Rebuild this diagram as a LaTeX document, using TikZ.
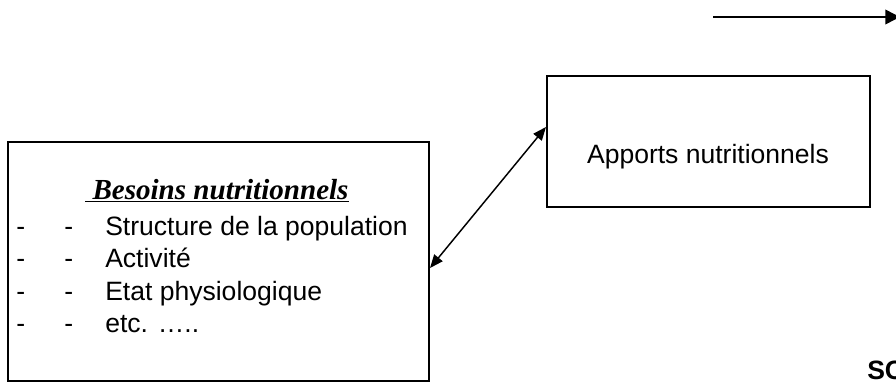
\documentclass[tikz,border=0pt]{standalone}
\usepackage{fontspec}
\setmainfont{Liberation Sans}
\newfontfamily\titlefont{Liberation Serif}
\usetikzlibrary{arrows.meta,positioning}
\tikzset{info box/.style={rectangle, draw=black, line width=1.5pt, inner sep=0pt}}
\tikzset{list text/.style={anchor=base west, inner sep=0pt, font=\fontsize{19.9}{24}\selectfont}}
\tikzset{title text/.style={anchor=base west, inner sep=0pt,
    font=\titlefont\fontsize{21.8}{26}\selectfont\bfseries\itshape}}
\tikzset{link edge/.style={draw=black, line width=1.1pt}}

\begin{document}
\begin{tikzpicture}
      [x=0.75pt, y=-0.75pt, >={Triangle[length=10pt,width=8pt]}]
      \useasboundingbox (0,0) rectangle (896,383);

      \node [info box, minimum width=315.75pt, minimum height=179.25pt] (besoins) at (218.5,261.5) {};
      \node [info box, minimum width=242.25pt, minimum height=98.25pt]  (apports) at (708.5,141.5) {};

      \node [list text, anchor=base] (apports text) at (708,163) {Apports nutritionnels};

      \node [title text] (titre)  at (85,199) {\underline{~Besoins nutritionnels}};

      \node [list text] (dash1a)  at ( 16,235) {-};
      \node [list text] (dash1b)  at ( 64,235) {-};
      \node [list text] (ligne1)  at (105,235) {Structure de la population};
      \node [list text] (dash2a)  at ( 16,267) {-};
      \node [list text] (dash2b)  at ( 64,267) {-};
      \node [list text] (ligne2)  at (105,267) {Activité};
      \node [list text] (dash3a)  at ( 16,300) {-};
      \node [list text] (dash3b)  at ( 64,300) {-};
      \node [list text] (ligne3)  at (105,300) {Etat physiologique};
      \node [list text] (dash4a)  at ( 16,332) {-};
      \node [list text] (dash4b)  at ( 64,332) {-};
      \node [list text] (ligne4)  at (105,332) {etc. …..};

      \node [list text, font=\bfseries\fontsize{19.9}{24}\selectfont] (sc) at (867,379) {SC};

      \draw [link edge, <->] ([yshift=-4.9pt]besoins.east) -- ([yshift=10.9pt]apports.west);

      \coordinate (flux start) at (713,17);
      \coordinate (flux end)   at (900,17);
      \draw [link edge, ->, >={Triangle[length=11pt,width=11pt]}] (flux start) -- (flux end);
\end{tikzpicture}
\end{document}
